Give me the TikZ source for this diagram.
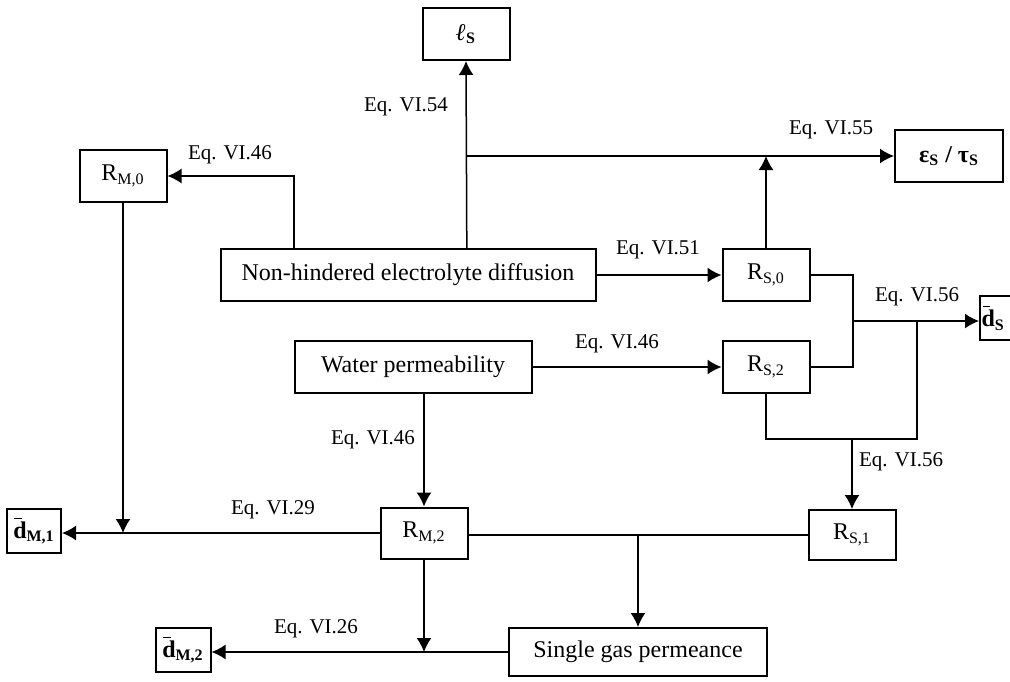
\documentclass[tikz,border=0pt]{standalone}
\usepackage{fontspec}
\setmainfont{Liberation Serif}
\usetikzlibrary{arrows.meta,calc}
\newcommand\dbar{\rlap{\kern0.04em\rule[0.8em]{0.32em}{0.06em}}d}

\begin{document}
\begin{tikzpicture}[x=0.5pt,y=-0.5pt,>={Latex[length=7pt,width=7.5pt]},line width=0.75pt,
  box/.style={draw, rectangle, line width=1pt, minimum height=26pt, inner sep=2pt, font=\fontsize{12}{14}\selectfont},
  res/.style={box, minimum width=43.5pt},
  outbox/.style={draw, rectangle, line width=1pt, inner sep=1.5pt, minimum height=22pt, font=\bfseries\fontsize{12}{14}\selectfont},
  eq/.style={inner sep=0pt, font=\fontsize{10.5}{12}\selectfont}]
\useasboundingbox (0,0) rectangle (1010,681);

% boxes
\node(Ls)[box, minimum width=43.5pt, font=\bfseries\fontsize{12}{14}\selectfont] at (466,34) {\textit{ℓ}\textsubscript{S}};
\node(ET)[box, minimum width=54pt, font=\bfseries\fontsize{12}{14}\selectfont] at (949,156) {ε\textsubscript{S} / τ\textsubscript{S}};
\node(RM0)[res] at (123,176) {R\textsubscript{M,0}};
\node(NHED)[box, minimum width=187.5pt] at (408,275) {Non-hindered electrolyte diffusion};
\node(RS0)[res] at (766,275) {R\textsubscript{S,0}};
\node(WP)[box, minimum width=118.5pt] at (413,367) {Water permeability};
\node(RS2)[res] at (766,367) {R\textsubscript{S,2}};
\node(DS)[outbox, anchor=west, inner xsep=0.8pt, text width=20pt, align=left] at (979,318) {\dbar\textsubscript{S}};
\node(RM2)[res, minimum height=25.5pt] at (424,533) {R\textsubscript{M,2}};
\node(RS1)[res, minimum height=25pt] at (852,535) {R\textsubscript{S,1}};
\node(DM1)[outbox, minimum width=27pt] at (34,531) {\dbar\textsubscript{M,1}};
\node(SGP)[box, minimum width=129pt, minimum height=24pt] at (638,652) {Single gas permeance};
\node(DM2)[outbox, minimum width=27.5pt] at (183,650) {\dbar\textsubscript{M,2}};

% junctions
\coordinate(NHa) at ($(NHED.north west)!0.197!(NHED.north east)$);
\coordinate(NHb) at ($(NHED.north west)!0.656!(NHED.north east)$);
\coordinate(J55) at (NHb |- ET.west);
\coordinate(J0) at (RS0.north |- ET.west);
\coordinate(J56) at (853,321);
\coordinate(J56b) at (917,321);
\coordinate(Jlow) at (917,439);
\coordinate(J56c) at (RS1.north |- Jlow);
\coordinate(J29) at (RM0.south |- RM2.west);
\coordinate(Jsg) at (SGP.north |- RS1.west);
\coordinate(J26) at (RM2.south |- SGP.west);

% connectors
\draw[->] (NHa) |- (RM0.east);
\draw[->] (NHb) -- (Ls.south);
\draw[->] (J55) -- (ET.west);
\draw[->] (RS0.north) -- (J0);
\draw[->] (NHED.east) -- (RS0.west);
\draw[->] (WP.east) -- (RS2.west);
\draw (RS0.east) -| (J56) |- (RS2.east);
\draw[->] (J56) -- (J56 -| DS.west);
\draw (J56b) -- (Jlow) -| (RS2.south);
\draw[->] (J56c) -- (RS1.north);
\draw[->] (RM2.north |- WP.south) -- (RM2.north);
\draw[->] (RM0.south) -- (J29);
\draw[->] (RM2.west) -- (RM2.west -| DM1.east);
\draw (RS1.west) -- (RS1.west -| RM2.east);
\draw[->] (Jsg) -- (SGP.north);
\draw[->] (RM2.south) -- (J26);
\draw[->] (SGP.west) -- (SGP.west -| DM2.east);

% equation labels
\node(E46a)[eq] at (230,155) {Eq. VI.46};
\node(E54)[eq] at (406,107) {Eq. VI.54};
\node(E55)[eq] at (831,130) {Eq. VI.55};
\node(E51)[eq] at (658,250) {Eq. VI.51};
\node(E46b)[eq] at (617,344) {Eq. VI.46};
\node(E56a)[eq] at (917,297) {Eq. VI.56};
\node(E56b)[eq] at (901,462) {Eq. VI.56};
\node(E46c)[eq] at (373,440) {Eq. VI.46};
\node(E29)[eq] at (273,510) {Eq. VI.29};
\node(E26)[eq] at (316,629) {Eq. VI.26};
\end{tikzpicture}
\end{document}
